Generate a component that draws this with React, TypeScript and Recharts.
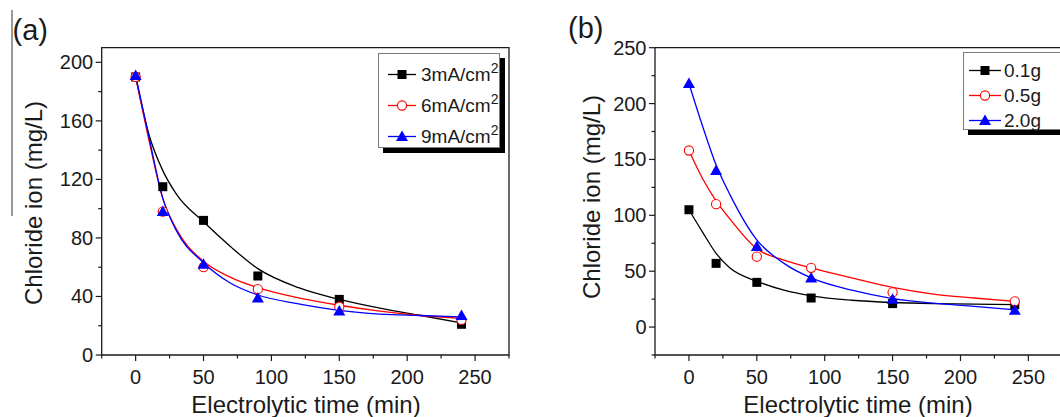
import { ComposedChart, Line, Scatter, XAxis, YAxis, ReferenceArea, Legend } from 'recharts';

const FONT = '"Liberation Sans", Arial, Helvetica, sans-serif';
const INK = '#1a1a1a';

// (a) sampling times (min) and measured chloride (mg/L) per current density
const timeA = [0, 20, 50, 90, 150, 240];
const current3 = [190, 115, 92, 54, 38, 21];
const current6 = [190, 98, 60, 45, 33, 24];
const current9 = [191, 98, 62, 39, 30, 27];

// (a) fitted decay curves
const fitTimeA = [0, 10, 20, 30, 50, 70, 90, 120, 150, 180, 210, 240];
const fit3 = [190, 150, 126, 110, 91, 74, 59, 46, 38, 32, 27, 22];
const fit6 = [190, 146, 107, 86, 64, 53, 46, 39, 34, 30, 27, 25];
const fit9 = [191, 148, 107, 85, 63, 49, 41, 35, 30.5, 28, 27, 26];

// (b) sampling times (min) and measured chloride (mg/L) per dosage
const timeB = [0, 20, 50, 90, 150, 240];
const mass01 = [105, 57, 40, 26, 21, 20];
const mass05 = [158, 110, 63, 53, 31, 23];
const mass20 = [218, 140, 72, 44, 25, 15];

// (b) fitted decay curves
const fitTimeB = [0, 10, 20, 30, 50, 70, 90, 120, 150, 180, 210, 240];
const fit01 = [105, 85, 66, 53, 41, 33, 28, 24, 22, 21, 20.5, 20];
const fit05 = [158, 133, 113, 97, 70, 60, 53, 44, 35.5, 29.5, 26, 23];
const fit20 = [218, 180, 145, 119, 78, 57, 44, 33, 25.5, 21.5, 18.5, 15.5];

const xTicks = [-25, 0, 25, 50, 75, 100, 125, 150, 175, 200, 225, 250, 275];
const yTicksA = [0, 20, 40, 60, 80, 100, 120, 140, 160, 180, 200];
const yTicksB = [-25, 0, 25, 50, 75, 100, 125, 150, 175, 200, 225, 250];

const legendA = ['3mA/cm', '6mA/cm', '9mA/cm'];
const legendB = ['0.1g', '0.5g', '2.0g'];

const COLORS = ['#000000', '#ff0000', '#0000ff'];
const MARKERS = ['square', 'circle', 'triangle'] as const;

const pairs = (xs: number[], ys: number[]) => xs.map((x, i) => ({ x, y: ys[i] }));

function Marker({ kind, cx, cy, color }: { kind: string; cx: number; cy: number; color: string }) {
  if (kind === 'square') return <rect x={cx - 4.5} y={cy - 4.5} width={9} height={9} fill={color} />;
  if (kind === 'circle') return <circle cx={cx} cy={cy} r={4.6} fill="#fff" stroke={color} strokeWidth={1.1} />;
  return <path d={`M${cx},${cy - 6} L${cx + 6},${cy + 4.5} L${cx - 6},${cy + 4.5} Z`} fill={color} />;
}

const shapeFor = (kind: string, color: string) => (p: any) => (
  <Marker kind={kind} cx={p.cx} cy={p.cy} color={color} />
);

function XTick({ x, y, payload }: any) {
  const v = payload.value;
  const major = v % 50 === 0;
  return (
    <g>
      <line x1={x} x2={x} y1={y} y2={y + (major ? 6 : 3.5)} stroke={INK} strokeWidth={1.2} />
      {major && (
        <text x={x} y={y + 29} textAnchor="middle" fontSize={20} fontFamily={FONT} fill={INK}>
          {v}
        </text>
      )}
    </g>
  );
}

const makeYTick = (step: number) => ({ x, y, payload }: any) => {
  const v = payload.value;
  const major = v % step === 0;
  return (
    <g>
      <line x1={x} x2={x - (major ? 6 : 3.5)} y1={y} y2={y} stroke={INK} strokeWidth={1.2} />
      {major && (
        <text x={x - 8.5} y={y + 7} textAnchor="end" fontSize={20} fontFamily={FONT} fill={INK}>
          {v}
        </text>
      )}
    </g>
  );
};

function SideTitle({ cx, cy, text }: { cx: number; cy: number; text: string }) {
  return (
    <text
      x={cx}
      y={cy}
      transform={`rotate(-90, ${cx}, ${cy})`}
      textAnchor="middle"
      dominantBaseline="central"
      fontSize={24}
      fontFamily={FONT}
      fill={INK}
    >
      {text}
    </text>
  );
}

function BottomTitle({ cx, base, text }: { cx: number; base: number; text: string }) {
  return (
    <text x={cx} y={base} textAnchor="middle" fontSize={24} fontFamily={FONT} fill={INK}>
      {text}
    </text>
  );
}

function LegendBox(props: {
  labels: string[];
  sup: boolean;
  rowH: number;
  padTop: number;
  lineFrom: number;
  lineTo: number;
  textLeft: number;
}) {
  const { labels, sup, rowH, padTop, lineFrom, lineTo, textLeft } = props;
  const mid = (lineFrom + lineTo) / 2;
  return (
    <div
      style={{
        boxSizing: 'border-box',
        width: '100%',
        height: '100%',
        background: '#fff',
        border: '1px solid #7a7a7a',
        boxShadow: '5px 5px 0 #000',
        paddingTop: padTop,
        fontFamily: FONT,
        color: INK,
      }}
    >
      {labels.map((label, i) => (
        <div key={label} style={{ position: 'relative', height: rowH }}>
          <svg width={lineTo + 2} height={rowH} style={{ position: 'absolute', left: 0, top: 0 }}>
            <line x1={lineFrom} x2={lineTo} y1={rowH / 2} y2={rowH / 2} stroke={COLORS[i]} strokeWidth={1.3} />
            <Marker kind={MARKERS[i]} cx={mid} cy={rowH / 2} color={COLORS[i]} />
          </svg>
          <span
            style={{
              position: 'absolute',
              left: textLeft,
              top: 0,
              lineHeight: `${rowH}px`,
              fontSize: 19,
              whiteSpace: 'nowrap',
            }}
          >
            {label}
            {sup && <span style={{ fontSize: 14, position: 'relative', top: -8 }}>2</span>}
          </span>
        </div>
      ))}
    </div>
  );
}

function Panel(props: {
  width: number;
  margin: { top: number; right: number; bottom: number; left: number };
  yWidth: number;
  yDomain: [number, number];
  yTicks: number[];
  yStep: number;
  times: number[];
  series: number[][];
  fitTimes: number[];
  fits: number[][];
  yTitle: { cx: number; cy: number };
  xTitleX: number;
  legend: React.ReactNode;
  legendStyle: React.CSSProperties;
}) {
  const p = props;
  return (
    <ComposedChart width={p.width} height={417} margin={p.margin}>
      <XAxis
        type="number"
        dataKey="x"
        domain={[-25, 275]}
        ticks={xTicks}
        allowDataOverflow
        height={62}
        axisLine={false}
        tickLine={false}
        tickSize={0}
        tickMargin={0}
        tick={<XTick />}
        interval={0}
        label={<BottomTitle cx={p.xTitleX} base={413} text="Electrolytic time (min)" />}
      />
      <YAxis
        type="number"
        dataKey="y"
        domain={p.yDomain}
        ticks={p.yTicks}
        allowDataOverflow
        width={p.yWidth}
        axisLine={false}
        tickLine={false}
        tickSize={0}
        tickMargin={0}
        tick={makeYTick(p.yStep)}
        interval={0}
        label={<SideTitle cx={p.yTitle.cx} cy={p.yTitle.cy} text="Chloride ion (mg/L)" />}
      />
      <ReferenceArea
        x1={-25}
        x2={275}
        y1={p.yDomain[0]}
        y2={p.yDomain[1]}
        fill="none"
        fillOpacity={0}
        stroke={INK}
        strokeWidth={1.3}
        strokeOpacity={1}
      />
      {p.series.map((ys, i) => [
        <Line
          key={`fit${i}`}
          data={pairs(p.fitTimes, p.fits[i])}
          dataKey="y"
          type="monotone"
          stroke={COLORS[i]}
          strokeWidth={1.3}
          dot={false}
          activeDot={false}
          isAnimationActive={false}
        />,
        <Scatter
          key={`pts${i}`}
          data={pairs(p.times, ys)}
          dataKey="y"
          shape={shapeFor(MARKERS[i], COLORS[i])}
          isAnimationActive={false}
        />,
      ])}
      <Legend
        layout="vertical"
        align="center"
        verticalAlign="middle"
        wrapperStyle={p.legendStyle}
        content={() => p.legend}
      />
    </ComposedChart>
  );
}

export default function App() {
  return (
    <div
      style={{
        position: 'absolute',
        left: 0,
        top: 0,
        width: 1060,
        height: 417,
        overflow: 'hidden',
        background: '#fff',
      }}
    >
      <div style={{ position: 'absolute', left: 0, top: 0 }}>
        <Panel
          width={530}
          margin={{ top: 47.7, right: 21, bottom: 0, left: 0 }}
          yWidth={101.7}
          yDomain={[0, 210]}
          yTicks={yTicksA}
          yStep={40}
          times={timeA}
          series={[current3, current6, current9]}
          fitTimes={fitTimeA}
          fits={[fit3, fit6, fit9]}
          yTitle={{ cx: 33, cy: 203 }}
          xTitleX={306}
          legendStyle={{ left: 378, top: 53, width: 122, height: 95 }}
          legend={
            <LegendBox labels={legendA} sup rowH={31} padTop={5} lineFrom={9} lineTo={37} textLeft={42} />
          }
        />
      </div>
      <div style={{ position: 'absolute', left: 530, top: 0 }}>
        <Panel
          width={540}
          margin={{ top: 47.7, right: 7.7, bottom: 0, left: 0 }}
          yWidth={125}
          yDomain={[-25, 250]}
          yTicks={yTicksB}
          yStep={50}
          times={timeB}
          series={[mass01, mass05, mass20]}
          fitTimes={fitTimeB}
          fits={[fit01, fit05, fit20]}
          yTitle={{ cx: 61, cy: 197 }}
          xTitleX={328}
          legendStyle={{ left: 433, top: 52, width: 102, height: 78 }}
          legend={
            <LegendBox labels={legendB} sup={false} rowH={25} padTop={4.5} lineFrom={5} lineTo={37} textLeft={40} />
          }
        />
      </div>
      <svg
        width={1060}
        height={417}
        style={{ position: 'absolute', left: 0, top: 0, pointerEvents: 'none' }}
      >
        <line x1={12} x2={12} y1={10} y2={216} stroke="#333" strokeWidth={1} />
        <text x={12.5} y={40} fontSize={29} fontFamily={FONT} fill={INK}>
          (a)
        </text>
        <text x={568} y={38} fontSize={29} fontFamily={FONT} fill={INK}>
          (b)
        </text>
      </svg>
    </div>
  );
}
